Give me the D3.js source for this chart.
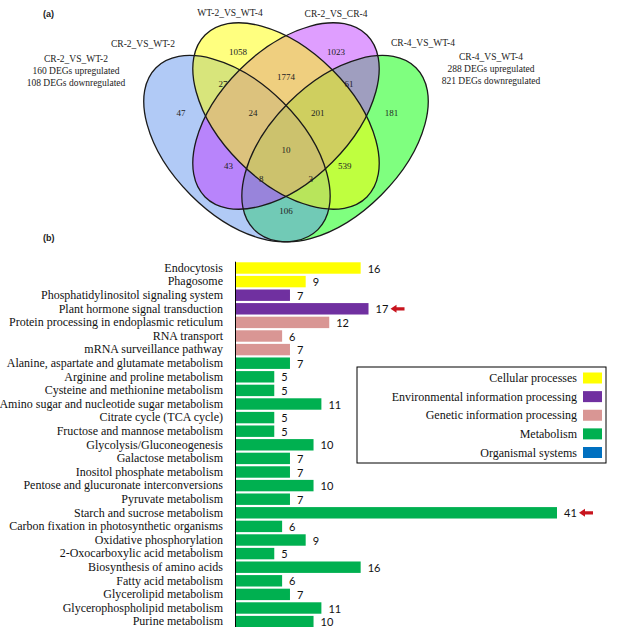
<!DOCTYPE html>
<html><head><meta charset="utf-8">
<script src="https://cdn.jsdelivr.net/npm/d3@7"></script>
<style>body{margin:0;background:#fff}svg{display:block}</style>
</head><body><svg id="c" width="622" height="627"></svg>
<script>
// ---------- Venn data ----------
const setNames = ["CR-2_VS_WT-2", "WT-2_VS_WT-4", "CR-2_VS_CR-4", "CR-4_VS_WT-4"];
const setColors = ["cornflowerblue", "#ffff00", "#bf3eff", "#00ff00"];
const regionKeys = ["B", "Y", "P", "G", "BY", "YP", "PG", "BYP", "YPG", "BYPG", "BP", "BPG", "BYG", "YG", "BG"];
const regionCounts = [47, 1058, 1023, 181, 27, 1774, 61, 24, 201, 10, 43, 8, 3, 539, 106];
const deg1Lines = ["CR-2_VS_WT-2", "160 DEGs upregulated", "108 DEGs downregulated"];
const deg4Lines = ["CR-4_VS_WT-4", "288 DEGs upregulated", "821 DEGs downregulated"];

// ---------- Bar data ----------
const pathways = ["Endocytosis", "Phagosome", "Phosphatidylinositol signaling system", "Plant hormone signal transduction",
  "Protein processing in endoplasmic reticulum", "RNA transport", "mRNA surveillance pathway",
  "Alanine, aspartate and glutamate metabolism", "Arginine and proline metabolism", "Cysteine and methionine metabolism",
  "Amino sugar and nucleotide sugar metabolism", "Citrate cycle (TCA cycle)", "Fructose and mannose metabolism",
  "Glycolysis/Gluconeogenesis", "Galactose metabolism", "Inositol phosphate metabolism",
  "Pentose and glucuronate interconversions", "Pyruvate metabolism", "Starch and sucrose metabolism",
  "Carbon fixation in photosynthetic organisms", "Oxidative phosphorylation", "2-Oxocarboxylic acid metabolism",
  "Biosynthesis of amino acids", "Fatty acid metabolism", "Glycerolipid metabolism",
  "Glycerophospholipid metabolism", "Purine metabolism"];
const geneCounts = [16, 9, 7, 17, 12, 6, 7, 7, 5, 5, 11, 5, 5, 10, 7, 7, 10, 7, 41, 6, 9, 5, 16, 6, 7, 11, 10];
const pathwayClass = [0, 0, 1, 1, 2, 2, 2, 3, 3, 3, 3, 3, 3, 3, 3, 3, 3, 3, 3, 3, 3, 3, 3, 3, 3, 3, 3];
const classNames = ["Cellular processes", "Environmental information processing", "Genetic information processing", "Metabolism", "Organismal systems"];
const classColors = ["#ffff00", "#7030a0", "#d99694", "#00b050", "#0070c0"];
const highlighted = ["Plant hormone signal transduction", "Starch and sucrose metabolism"];

const svg = d3.select("#c");
const SERIF = "'Liberation Serif','Times New Roman',serif";
const SANS = "Lato,'Liberation Sans',sans-serif";

// ---------- Venn layout (unit coordinates, VennDiagram-like) ----------
const U = 327;
const vx = d3.scaleLinear().domain([0, 1]).range([286 - 0.5 * U, 286 + 0.5 * U]);
const vy = d3.scaleLinear().domain([0.57, 1.57]).range([116, 116 - U]);
const ellipses = [
  {set: 0, cx: 0.35, cy: 0.47, rot: 45},
  {set: 1, cx: 0.50, cy: 0.57, rot: 45},
  {set: 2, cx: 0.50, cy: 0.57, rot: -45},
  {set: 3, cx: 0.65, cy: 0.47, rot: -45}
];
const ea = 0.35, eb = 0.2;
const drawOrder = [3, 0, 2, 1];
const venn = svg.append("g");
venn.selectAll("ellipse.fill").data(drawOrder.map(i => ellipses[i])).join("ellipse")
  .attr("class", "fill")
  .attr("rx", ea * U).attr("ry", eb * U)
  .attr("transform", d => `translate(${vx(d.cx)},${vy(d.cy)}) rotate(${d.rot})`)
  .attr("fill", d => setColors[d.set]).attr("fill-opacity", 0.5);
venn.selectAll("ellipse.line").data(ellipses).join("ellipse")
  .attr("class", "line")
  .attr("rx", ea * U).attr("ry", eb * U)
  .attr("transform", d => `translate(${vx(d.cx)},${vy(d.cy)}) rotate(${d.rot})`)
  .attr("fill", "none").attr("stroke", "#1a1a1a").attr("stroke-width", 1.3);

const regionPos = {
  B: [0.179, 0.579], Y: [0.353, 0.766], P: [0.653, 0.766], G: [0.823, 0.579],
  BY: [0.307, 0.669], YP: [0.5, 0.689], PG: [0.693, 0.669], BYP: [0.399, 0.579],
  YPG: [0.597, 0.579], BYPG: [0.5, 0.466], BP: [0.324, 0.417], BPG: [0.424, 0.377],
  BYG: [0.576, 0.377], YG: [0.680, 0.417], BG: [0.5, 0.279]
};
venn.selectAll("text.rc").data(regionKeys).join("text")
  .attr("class", "rc")
  .attr("x", k => vx(regionPos[k][0])).attr("y", k => vy(regionPos[k][1]))
  .attr("text-anchor", "middle").attr("dominant-baseline", "central")
  .attr("font-family", SERIF).attr("font-size", 9).attr("fill", "#222")
  .text((k, i) => regionCounts[i]);

// set name labels
const nameLabels = [
  {i: 0, x: 143, y: 44}, {i: 1, x: 230, y: 13}, {i: 2, x: 336, y: 14}, {i: 3, x: 423, y: 43}
];
venn.selectAll("text.sn").data(nameLabels).join("text")
  .attr("class", "sn").attr("x", d => d.x).attr("y", d => d.y)
  .attr("text-anchor", "middle").attr("dominant-baseline", "central")
  .attr("font-family", SERIF).attr("font-size", 9.5).attr("fill", "#222")
  .text(d => setNames[d.i]);
function block(lines, cx, y0) {
  venn.append("g").selectAll("text").data(lines).join("text")
    .attr("x", cx).attr("y", (d, i) => y0 + i * 11.8)
    .attr("text-anchor", "middle").attr("dominant-baseline", "central")
    .attr("font-family", SERIF).attr("font-size", 9.5).attr("fill", "#222")
    .text(d => d);
}
block(deg1Lines, 76, 59);
block(deg4Lines, 491, 57);

svg.append("text").attr("x", 43).attr("y", 14).attr("dominant-baseline", "central")
  .attr("font-family", "'Liberation Sans',Arial,sans-serif").attr("font-weight", "bold")
  .attr("font-size", 9).attr("fill", "#222").text("(a)");
svg.append("text").attr("x", 43).attr("y", 238).attr("dominant-baseline", "central")
  .attr("font-family", "'Liberation Sans',Arial,sans-serif").attr("font-weight", "bold")
  .attr("font-size", 9).attr("fill", "#222").text("(b)");

// ---------- Bar chart ----------
const y = d3.scaleBand().domain(pathways).range([261.2, 628.4]).paddingInner(0.16).paddingOuter(0.08);
const x = d3.scaleLinear().domain([0, 41]).range([235, 557]);
const bars = svg.append("g");
bars.selectAll("rect").data(pathways).join("rect")
  .attr("x", x(0)).attr("y", d => y(d))
  .attr("width", (d, i) => x(geneCounts[i]) - x(0)).attr("height", y.bandwidth())
  .attr("fill", (d, i) => classColors[pathwayClass[i]]);
bars.selectAll("text").data(pathways).join("text")
  .attr("x", (d, i) => x(geneCounts[i]) + 7).attr("y", d => y(d) + y.bandwidth() / 2)
  .attr("dominant-baseline", "central")
  .attr("font-family", SANS).attr("font-size", 11).attr("fill", "#111")
  .text((d, i) => geneCounts[i]);

const axis = svg.append("g").attr("transform", `translate(${x(0)},0)`)
  .call(d3.axisLeft(y).tickSize(0).tickSizeOuter(0).tickPadding(12));
axis.select(".domain").attr("stroke", "#000").attr("stroke-width", 1);
axis.selectAll("text").attr("font-family", SERIF).attr("font-size", 12).attr("fill", "#111");

// red arrows
svg.append("g").selectAll("path").data(highlighted).join("path")
  .attr("transform", d => `translate(${x(geneCounts[pathways.indexOf(d)]) + 22},${y(d) + y.bandwidth() / 2})`)
  .attr("d", "M0,0 L6,-4 L6,-1.6 L14,-1.6 L14,1.6 L6,1.6 L6,4 Z")
  .attr("fill", "#c8141e");

// legend
const lg = svg.append("g");
lg.append("rect").attr("x", 357).attr("y", 367).attr("width", 249).attr("height", 96)
  .attr("fill", "#fff").attr("stroke", "#000").attr("stroke-width", 1);
const ly = d3.scalePoint().domain(classNames).range([378, 452.5]);
lg.selectAll("rect.sw").data(classNames).join("rect").attr("class", "sw")
  .attr("x", 583).attr("y", d => ly(d) - 5.5).attr("width", 19).attr("height", 11)
  .attr("fill", (d, i) => classColors[i]);
lg.selectAll("text").data(classNames).join("text")
  .attr("x", 577).attr("y", d => ly(d)).attr("text-anchor", "end").attr("dominant-baseline", "central")
  .attr("font-family", SERIF).attr("font-size", 12).attr("fill", "#111").text(d => d);
</script></body></html>
